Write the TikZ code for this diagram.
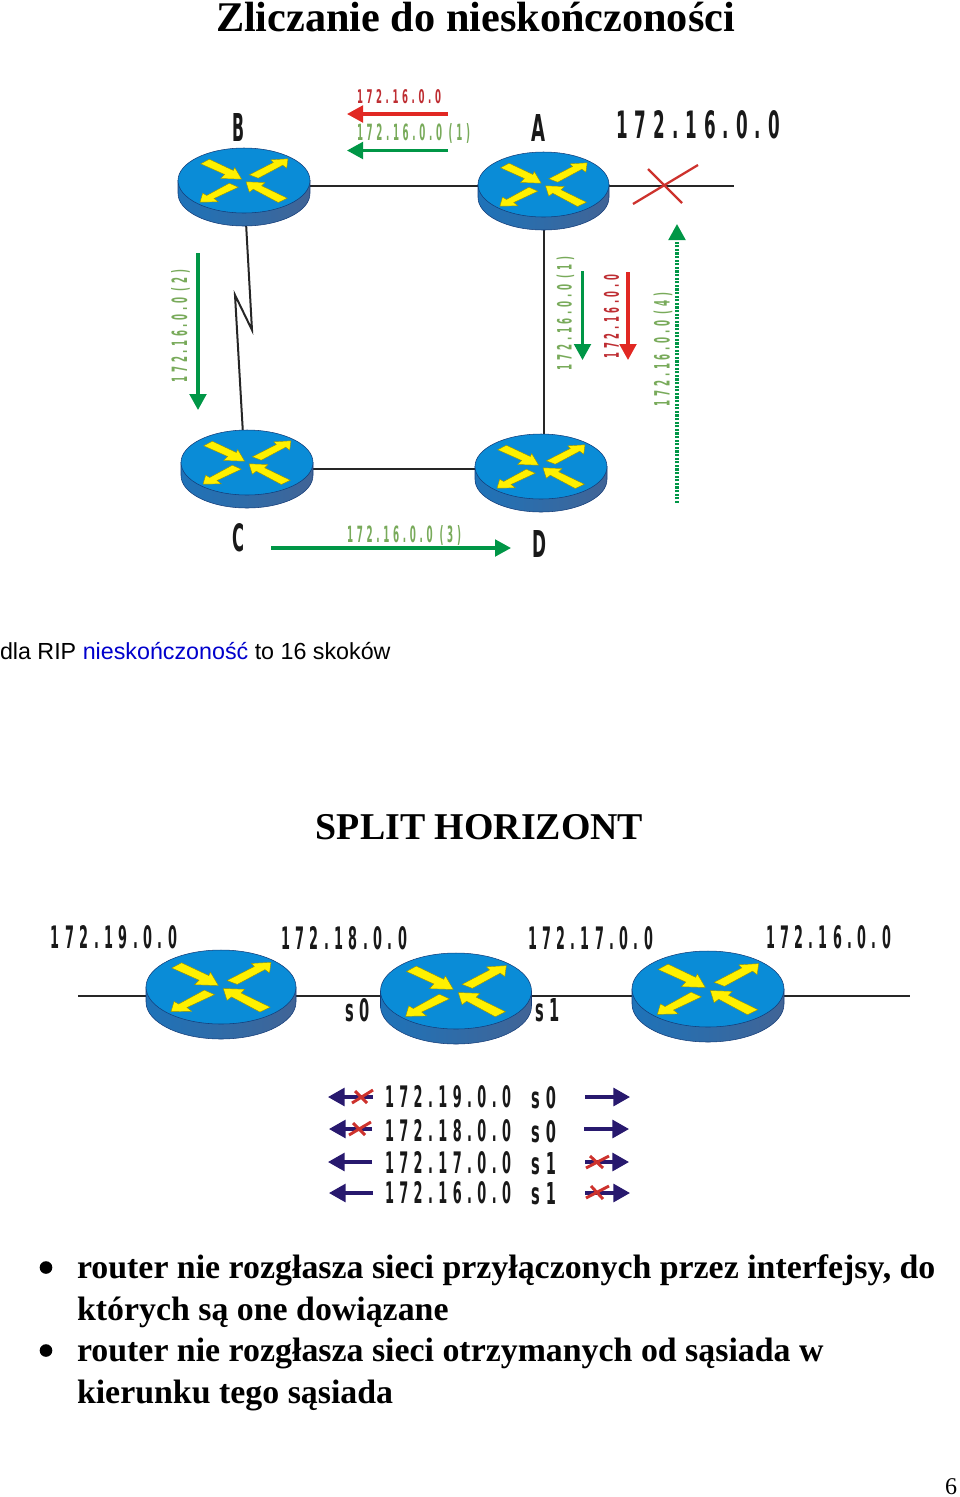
\documentclass[tikz,border=0pt]{standalone}
\usepackage{fontspec}
\usepackage{graphicx}
\setmainfont{Liberation Serif}
\newfontfamily\arialf{Liberation Sans}
\newfontfamily\lblf[LetterSpace=42]{DejaVu Sans Bold}
\usetikzlibrary{arrows.meta,calc}
\definecolor{rblue}{RGB}{10,140,215}
\definecolor{rside}{RGB}{30,115,185}
\definecolor{rsided}{RGB}{65,100,150}
\definecolor{redge}{RGB}{20,60,120}
\definecolor{ryel}{RGB}{255,240,0}
\definecolor{lred}{RGB}{190,45,50}
\definecolor{lgreen}{RGB}{120,170,90}
\definecolor{agreen}{RGB}{0,150,70}
\definecolor{ared}{RGB}{225,40,35}
\definecolor{navy}{RGB}{40,25,110}
\definecolor{xred}{RGB}{205,50,45}
\pgfdeclarelayer{bg}
\pgfsetlayers{bg,main}
\tikzset{
  lbl/.style={inner sep=0pt,outer sep=0pt,anchor=center},
  wire/.style={line width=1.5pt,black!85},
  garrow/.style={line width=2.3pt,agreen,-{Triangle[length=12pt,width=12.5pt]}},
  rarrow/.style={line width=2.3pt,ared,-{Triangle[length=12pt,width=12.5pt]}},
  narrow/.style={line width=2.3pt,navy,-{Triangle[length=12.5pt,width=13.5pt]}},
  xmark/.style={line width=1.7pt,xred},
  xmarkthick/.style={line width=2.2pt,xred},
  routerbody/.style={inner sep=0pt,outer sep=0pt,rectangle,draw=none},
  yarrow/.style={fill=ryel,draw=black!40!ryel,line width=0.3pt},
  dotsline/.style={dash pattern=on 1.6pt off 1.1pt},
}
% \routr{name}{cx}{cy of top ellipse}{rx}{ry}{depth}
\newcommand{\routr}[6]{%
  \node[routerbody,minimum width=#4*1.5pt,minimum height=#5*1.5pt+#6*0.75pt] (#1) at (#2,#3+#6*0.5) {};
  \begin{scope}[shift={(#2,#3)}]
    \shadedraw[left color=rside,right color=rsided,draw=redge,line width=0.4pt]
      (-#4,0) -- (-#4,#6) arc[start angle=180,delta angle=-180,x radius=#4,y radius=#5] -- (#4,0) -- cycle;
    \draw[fill=rblue,draw=redge,line width=0.4pt] (0,0) ellipse[x radius=#4,y radius=#5];
    \begin{scope}[x=#4/66*0.75pt,y=-#5/32.5*0.75pt]
      \path[yarrow]
        (-34.7,-21.3) -- (-10.7,-10) -- (-9.3,-13) -- (-2.3,-1.3) -- (-23.3,-2) -- (-19.3,-6) -- (-43.3,-16.7) -- cycle;
      \path[yarrow]
        (5.3,-5.7) -- (29.3,-18) -- (26.7,-20.7) -- (44,-21.7) -- (42.7,-12.3) -- (38.7,-15.3) -- (14.3,-2.3) -- cycle;
      \path[yarrow]
        (-14.7,2.7) -- (-5.7,6.7) -- (-30,18) -- (-25.7,21.3) -- (-44,21.7) -- (-41.3,12.7) -- (-37.3,15) -- cycle;
      \path[yarrow]
        (2,1.3) -- (21,2) -- (17.7,5.3) -- (43.3,17.7) -- (34.3,22) -- (9.3,8.7) -- (5.3,11.7) -- cycle;
    \end{scope}
  \end{scope}}
% \lab{x}{y}{w}{h}{rotation}{colour}{text}{name}
\newcommand{\lab}[8]{%
  \node[lbl,rotate=#5,text=#6] (#8) at (#1,#2) {\resizebox{\dimexpr #3pt*3/4\relax}{\dimexpr #4pt*3/4\relax}{\lblf #7}};}
\newcommand{\xmk}[9]{%
  \coordinate (#1a) at (#2,#3); \coordinate (#1b) at (#4,#5);
  \coordinate (#1c) at (#6,#7); \coordinate (#1d) at (#8,#9);
  \draw[xmark] (#1a) -- (#1b) (#1c) -- (#1d);}
\newcommand{\xmkt}[9]{%
  \coordinate (#1a) at (#2,#3); \coordinate (#1b) at (#4,#5);
  \coordinate (#1c) at (#6,#7); \coordinate (#1d) at (#8,#9);
  \draw[xmarkthick] (#1a) -- (#1b) (#1c) -- (#1d);}
\newcommand{\arr}[6]{%
  \coordinate (#1s) at (#3,#4); \coordinate (#1e) at (#5,#6);
  \draw[#2] (#1s) -- (#1e);}
\begin{document}
\begin{tikzpicture}[x=0.75pt,y=-0.75pt]
\useasboundingbox (0,0) rectangle (960,1497);
% routers
\routr{B}{244}{180.5}{66}{32.5}{13}
\routr{A}{543.5}{184.5}{65.5}{32.5}{13}
\routr{C}{247}{462.5}{66}{32.5}{13}
\routr{D}{541}{466.5}{66}{32.5}{13}
\routr{Rone}{221}{987}{75}{37}{15}
\routr{Rtwo}{456}{991}{75.5}{38}{15}
\routr{Rthree}{708}{989}{76}{38}{15}
% connectors
\coordinate (Astub) at (734,186);
\coordinate (Lleft) at (78,996);
\coordinate (Lright) at (910,996);
\coordinate (zigone) at (252,330);
\coordinate (zigtwo) at (235,295);
\begin{pgfonlayer}{bg}
  \draw[wire] ($(B.center)+(0,-1)$) -- ($(A.center)+(0,-5)$);
  \draw[wire] ($(A.center)+(0,-5)$) -- (Astub);
  \draw[wire] (A.center) -- (A.center |- D.center);
  \draw[wire] (C.center) -- (D.center |- C.center);
  \draw[wire] (B.center) -- (zigone) -- (zigtwo) -- ($(C.center)+(-2,0)$);
  \draw[wire] (Lleft) -- (Rone.center |- Lleft) -- (Rtwo.center |- Lleft) -- (Rthree.center |- Lleft) -- (Lright);
\end{pgfonlayer}
% title texts
\node[lbl,font=\bfseries\fontsize{31.7}{36}\selectfont] (title) at (475.5,17) {Zliczanie do nieskończoności};
\node[lbl,anchor=base west,font=\arialf\fontsize{17.45}{22}\selectfont] (rip) at (0,659) {dla RIP \textcolor{blue!80!black}{nieskończoność} to 16 skoków};
\node[lbl,font=\bfseries\fontsize{28.4}{36}\selectfont] (split) at (479.5,827) {SPLIT HORIZONT};
% top labels
\lab{399}{97}{84}{14}{0}{lred}{172.16.0.0}{la}
\lab{413.5}{133.5}{113}{17}{0}{lgreen}{172.16.0.0 (1)}{lb}
\lab{238}{127.5}{12}{28}{0}{black!90}{B}{lB}
\lab{538}{127.5}{14}{27}{0}{black!90}{A}{lA}
\lab{238}{538}{12}{28}{0}{black!90}{C}{lC}
\lab{539}{543.5}{14}{27}{0}{black!90}{D}{lD}
\lab{698}{125}{164}{28}{0}{black!90}{172.16.0.0}{lbig}
\lab{180.5}{326}{112}{16}{90}{lgreen}{172.16.0.0 (2)}{lc}
\lab{565.5}{313.5}{113}{15}{90}{lgreen}{172.16.0.0 (1)}{ld}
\lab{611.5}{316.5}{83}{15}{90}{lred}{172.16.0.0}{le}
\lab{663}{349.5}{113}{16}{90}{lgreen}{172.16.0.0 (4)}{lf}
\lab{404}{535.5}{114}{17}{0}{lgreen}{172.16.0.0 (3)}{lg}
% top arrows
\arr{aa}{rarrow}{448}{114}{347}{114}
\arr{ab}{garrow}{448}{150.5}{347}{150.5}
\arr{ac}{garrow}{198}{253}{198}{410}
\arr{ad}{garrow}{582.5}{271}{582.5}{360}
\arr{ae}{rarrow}{628}{272}{628}{360}
\arr{af}{garrow,dotsline}{677}{503}{677}{224}
\arr{ag}{garrow}{271}{548}{511}{548}
\xmk{xa}{633}{204}{698}{165}{648}{169}{682}{203}
% bottom labels
\lab{114}{937.5}{126}{23}{0}{black!90}{172.19.0.0}{ma}
\lab{344}{938.5}{126}{23}{0}{black!90}{172.18.0.0}{mb}
\lab{590.5}{938.5}{125}{23}{0}{black!90}{172.17.0.0}{mc}
\lab{828.5}{937.5}{125}{23}{0}{black!90}{172.16.0.0}{md}
\lab{357.5}{1010}{25}{23}{0}{black!90}{s0}{me}
\lab{547.5}{1010}{25}{23}{0}{black!90}{s1}{mf}
% table
\lab{448}{1097}{126}{22}{0}{black!90}{172.19.0.0}{ta}
\lab{543.5}{1098}{25}{22}{0}{black!90}{s0}{tb}
\lab{448}{1131}{126}{22}{0}{black!90}{172.18.0.0}{tc}
\lab{543.5}{1132}{25}{22}{0}{black!90}{s0}{td}
\lab{448}{1162.5}{126}{22}{0}{black!90}{172.17.0.0}{te}
\lab{543.5}{1163.5}{25}{22}{0}{black!90}{s1}{tf}
\lab{448}{1193}{126}{22}{0}{black!90}{172.16.0.0}{tg}
\lab{543.5}{1194}{25}{22}{0}{black!90}{s1}{th}
% table arrows
\arr{na}{narrow}{373}{1097}{328}{1097}
\arr{nb}{narrow}{372}{1129}{329}{1129}
\arr{nc}{narrow}{372}{1162}{328}{1162}
\arr{nd}{narrow}{373}{1193}{329}{1193}
\arr{ne}{narrow}{585}{1097}{630}{1097}
\arr{nf}{narrow}{584}{1129}{629}{1129}
\arr{ng}{narrow}{585}{1162}{629}{1162}
\arr{nh}{narrow}{585}{1193}{630}{1193}
\xmkt{xb}{352}{1103}{373}{1090}{355}{1091}{367}{1103}
\xmkt{xc}{349}{1135}{371}{1122}{353}{1123}{365}{1135}
\xmkt{xd}{586}{1168}{609}{1156}{590}{1156}{603}{1168}
\xmkt{xe}{586}{1198}{609}{1186}{591}{1186}{603}{1199}
% bullets
\fill (46,1267.5) circle[radius=6.3] coordinate (bu1);
\fill (46,1350.5) circle[radius=6.3] coordinate (bu2);
\node[lbl,anchor=base west,font=\bfseries\fontsize{25.4}{30}\selectfont] (t1) at (77,1278) {router nie rozgłasza sieci przyłączonych przez interfejsy, do};
\node[lbl,anchor=base west,font=\bfseries\fontsize{25.4}{30}\selectfont] (t2) at (77,1320) {których są one dowiązane};
\node[lbl,anchor=base west,font=\bfseries\fontsize{25.4}{30}\selectfont] (t3) at (77,1361) {router nie rozgłasza sieci otrzymanych od sąsiada w};
\node[lbl,anchor=base west,font=\bfseries\fontsize{25.4}{30}\selectfont] (t4) at (77,1403) {kierunku tego sąsiada};
\node[lbl,anchor=base east,font=\fontsize{18}{22}\selectfont] (pg) at (957,1494) {6};
\end{tikzpicture}
\end{document}
